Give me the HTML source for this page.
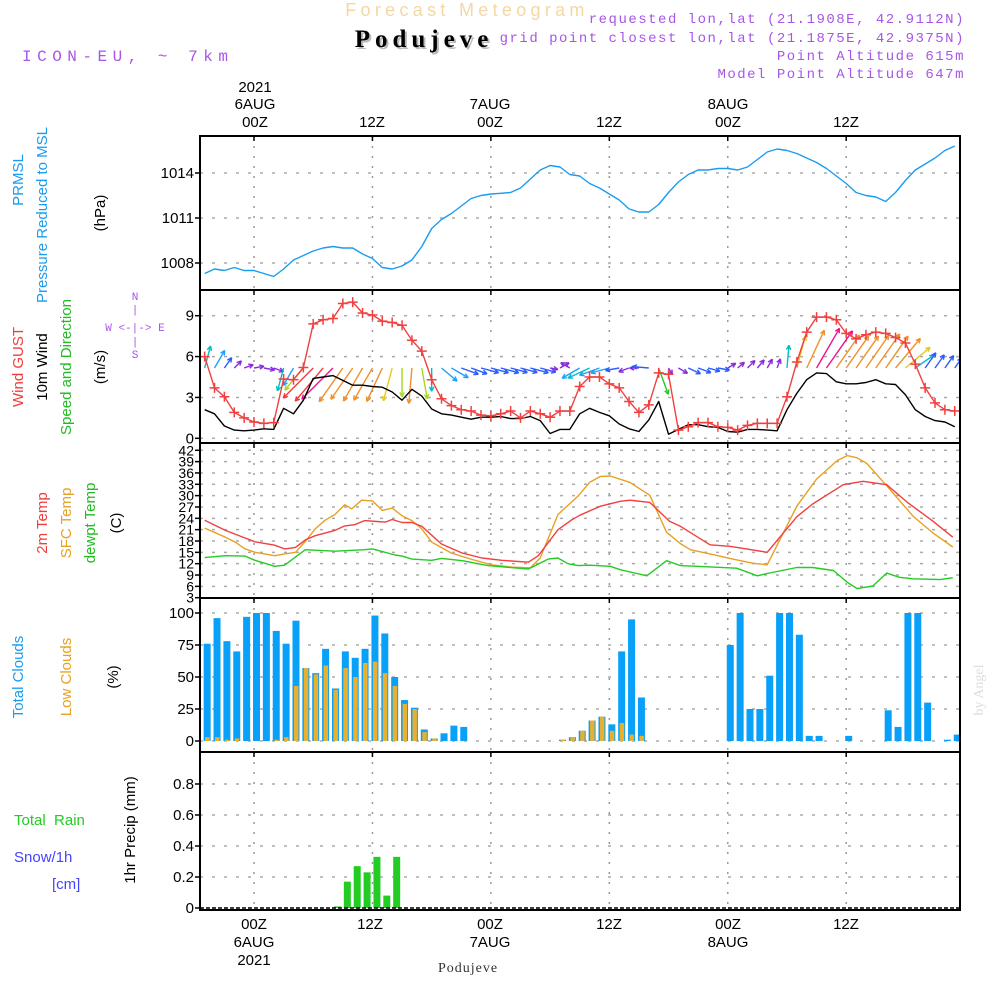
<!DOCTYPE html>
<html><head><meta charset="utf-8"><style>
html,body{margin:0;padding:0;background:#fff;}
svg{display:block;font-family:"Liberation Sans",sans-serif;}
</style></head><body>
<svg id="chart" width="1000" height="1000" viewBox="0 0 1000 1000" xmlns="http://www.w3.org/2000/svg">
<defs>
<clipPath id="clipP"><rect x="200" y="136" width="760" height="774"/></clipPath>
</defs>
<text x="467" y="16" text-anchor="middle" font-size="18" fill="#f3d8a4" letter-spacing="4.3">Forecast Meteogram</text>
<text x="426" y="49" text-anchor="middle" font-size="25" font-weight="bold" font-family="Liberation Serif,serif" fill="#bbb" letter-spacing="5">Podujeve</text>
<text x="424" y="47" text-anchor="middle" font-size="25" font-weight="bold" font-family="Liberation Serif,serif" fill="#000" letter-spacing="5">Podujeve</text>
<text x="22" y="61" font-size="16" fill="#a855e8" font-family="Liberation Mono,monospace" letter-spacing="5.5">ICON-EU, ~ 7km</text>
<g font-size="14" fill="#a855e8" text-anchor="end" font-family="Liberation Mono,monospace" letter-spacing="1.5">
<text x="965" y="23">requested lon,lat (21.1908E, 42.9112N)</text>
<text x="965" y="42">grid point closest lon,lat (21.1875E, 42.9375N)</text>
<text x="965" y="60">Point Altitude 615m</text>
<text x="965" y="78">Model Point Altitude 647m</text>
</g>
<g font-size="15" fill="#000" text-anchor="middle">
<text x="255" y="92">2021</text><text x="255" y="109">6AUG</text><text x="255" y="127">00Z</text>
<text x="372" y="127">12Z</text>
<text x="490" y="109">7AUG</text><text x="490" y="127">00Z</text>
<text x="609" y="127">12Z</text>
<text x="728" y="109">8AUG</text><text x="728" y="127">00Z</text>
<text x="846" y="127">12Z</text>
</g>
<g font-size="15" fill="#000" text-anchor="middle">
<text x="254" y="929">00Z</text><text x="254" y="947">6AUG</text><text x="254" y="965">2021</text>
<text x="370" y="929">12Z</text>
<text x="490" y="929">00Z</text><text x="490" y="947">7AUG</text>
<text x="609" y="929">12Z</text>
<text x="728" y="929">00Z</text><text x="728" y="947">8AUG</text>
<text x="846" y="929">12Z</text>
</g>
<text x="468" y="972" text-anchor="middle" font-size="14" font-family="Liberation Serif,serif" fill="#333" letter-spacing="1">Podujeve</text>
<text transform="translate(983,690) rotate(-90)" text-anchor="middle" font-size="14" font-family="Liberation Serif,serif" fill="#ddd">by Angel</text>

<g font-size="15" text-anchor="middle">
<text transform="translate(23,180) rotate(-90)" fill="#1a9cf0">PRMSL</text>
<text transform="translate(47,215) rotate(-90)" fill="#1a9cf0">Pressure Reduced to MSL</text>
<text transform="translate(105,213) rotate(-90)" fill="#000">(hPa)</text>
<text transform="translate(23,367) rotate(-90)" fill="#f03c3c">Wind GUST</text>
<text transform="translate(47,367) rotate(-90)" fill="#000">10m Wind</text>
<text transform="translate(71,367) rotate(-90)" fill="#22bb22">Speed and Direction</text>
<text transform="translate(105,367) rotate(-90)" fill="#000">(m/s)</text>
<text transform="translate(47,523) rotate(-90)" fill="#f03c3c">2m Temp</text>
<text transform="translate(71,523) rotate(-90)" fill="#e8a020">SFC Temp</text>
<text transform="translate(95,523) rotate(-90)" fill="#22bb22">dewpt Temp</text>
<text transform="translate(121,523) rotate(-90)" fill="#000">(C)</text>
<text transform="translate(23,677) rotate(-90)" fill="#1a9cf0">Total Clouds</text>
<text transform="translate(71,677) rotate(-90)" fill="#e8a020">Low Clouds</text>
<text transform="translate(118,677) rotate(-90)" fill="#000">(%)</text>
<text transform="translate(135,830) rotate(-90)" fill="#000">1hr Precip (mm)</text>
</g>
<text x="14" y="825" font-size="15" fill="#22cc22" xml:space="preserve">Total  Rain</text>
<text x="14" y="862" font-size="15" fill="#4444ff">Snow/1h</text>
<text x="52" y="889" font-size="15" fill="#4444ff">[cm]</text>
<g font-size="11" fill="#a855e8" font-family="Liberation Mono,monospace" text-anchor="middle">
<text x="135" y="300">N</text><text x="135" y="313">|</text>
<text x="135" y="331">W &lt;-|-&gt; E</text>
<text x="135" y="345">|</text><text x="135" y="358">S</text>
</g>
<g id="grid"></g>
<g id="marks" clip-path="url(#clipP)"></g>
<g id="frames"></g>
<g id="ticks" font-size="15" text-anchor="end"></g>
</svg>
<script>
// ---- data ----
const presHourStart = -5;
const pressure = [1007.3,1007.6,1007.5,1007.7,1007.5,1007.5,1007.3,1007.1,1007.6,1008.2,1008.5,1008.8,1009.0,1009.1,1009.0,1009.0,1008.6,1008.3,1007.7,1007.6,1007.8,1008.2,1009.1,1010.3,1010.9,1011.3,1011.8,1012.3,1012.5,1012.6,1012.65,1012.7,1013.0,1013.6,1014.2,1014.5,1014.4,1013.9,1013.8,1013.3,1013.0,1012.6,1012.2,1011.6,1011.4,1011.4,1011.9,1012.7,1013.4,1013.9,1014.2,1014.2,1014.3,1014.3,1014.2,1014.4,1014.9,1015.4,1015.6,1015.5,1015.3,1015.0,1014.7,1014.3,1013.8,1013.3,1012.7,1012.5,1012.4,1012.1,1012.7,1013.5,1014.2,1014.6,1015.0,1015.5,1015.8];
const pressureTicks = [1008,1011,1014];

const windHourStart = -5;
const gust = [6.0,3.7,3.05,1.9,1.5,1.2,1.1,1.15,4.35,4.3,5.2,8.4,8.7,8.8,9.9,10.0,9.2,9.05,8.6,8.5,8.3,7.2,6.4,4.3,2.9,2.4,2.1,2.0,1.7,1.65,1.8,2.0,1.5,2.0,1.8,1.55,2.0,2.0,3.8,4.5,4.5,4.0,3.7,2.7,1.9,2.45,4.8,4.7,0.6,0.85,1.15,1.15,0.85,0.8,0.6,0.95,1.1,1.1,1.1,3.05,5.6,7.8,8.9,8.9,8.7,7.7,7.3,7.6,7.8,7.7,7.4,7.0,5.45,3.7,2.6,2.1,2.0];
const windSpeed = [2.1,1.8,0.9,0.6,0.55,0.6,0.7,0.65,2.2,1.8,2.8,4.4,4.5,4.6,4.25,3.9,3.9,3.8,3.75,3.4,2.8,3.6,3.1,2.15,1.8,1.7,1.55,1.4,1.55,1.55,1.6,1.45,1.45,1.6,1.3,0.35,0.65,0.65,1.8,2.2,1.9,1.65,1.05,0.7,0.5,1.35,2.7,0.3,0.65,1.0,1.0,0.85,0.8,0.5,0.45,0.65,0.65,0.6,0.55,2.1,3.3,4.3,4.8,4.75,4.15,4.0,4.0,4.1,4.3,4.0,3.95,3.2,2.1,1.6,1.3,1.2,0.85];
const windToward = [15,30,35,45,70,80,100,110,195,210,220,225,220,225,215,215,210,210,205,195,180,185,170,180,130,120,110,110,105,105,105,105,105,105,105,100,60,300,240,245,250,255,260,250,270,275,160,150,120,115,110,105,100,60,50,45,40,30,20,5,15,25,30,35,35,35,35,35,35,35,40,50,55,35,35,35,35];
const windTicks = [0,3,6,9];

const t2mHours = [-5,-2.9,-0.9,0.1,2.1,3.1,4.2,5.2,6.2,8.2,9.2,10.2,11.2,13.3,14,15,16,17,19,21.1,23.1,25.1,27.8,28.8,30.8,32.2,33,35.1,37.1,38.1,40.1,42.1,43.2,46.2,48.2,49.9,52,55,56.6,59.7,61.7,64.1,66.2,68.8,70.8];
const t2m = [23.5,20.8,18.8,17.8,16.9,15.9,16.3,18.3,19.4,20.8,22,22.3,23.4,23.0,23.7,22.9,22.9,21.9,17.2,14.8,13.5,12.9,12.4,14.1,21,23.6,24.8,27.2,28.5,28.8,28.2,23.2,21.9,17.0,16.6,15.9,15.0,24.4,27.8,32.9,33.8,32.9,28.2,23.2,19];
const sfcHours = [-5,-2.9,-1.9,-0.9,0.1,2.1,3.1,4.2,5.2,6.2,7.2,8.2,9.2,9.9,10.9,12,13,14,15,16,17,18,20,22.1,24.1,26.1,28,29,30.8,32.8,34,35.1,36.1,38.1,40.1,41.8,43.2,44.2,46.5,48.5,50.6,52,55,57,59.1,60.1,61.1,62.1,64.1,66.2,66.8,68.8,70.8];
const sfcTemp = [21.4,19,17.7,15.9,15,14.1,14.6,15.0,17.9,21.2,23.5,25,27.6,26.5,28.8,28.6,26.1,26.7,24.7,23.4,21.2,17.7,14.8,13.1,11.7,11.1,10.9,13.5,25,29.8,33.5,35.1,35.2,33.5,30.1,20.3,17.3,15.7,14.4,13.2,12.1,11.7,27.2,34.4,39.3,40.6,40,38.5,32.6,26.3,24.5,20.1,16.4];
const dewHours = [-5,-2.9,-0.9,0.1,2.1,3.1,5.2,8.2,11.2,12,14.3,15,16,18,19,21.1,23.7,27.8,29.8,30.8,31.8,32.8,34,36.1,37.1,39.8,41.8,43.2,46.5,48.9,51,52,55,56.6,58.7,60.1,61.1,62.7,64.1,65.4,66.8,69.5,70.8];
const dewTemp = [13.6,14.1,14,12.9,11.3,11.6,15.7,15.3,15.7,15.9,14.3,14,13.2,12.9,13.4,12.8,11.5,10.6,13.2,13.5,12,11.5,11.6,11.3,10.4,8.8,12.8,11.5,11.1,10.8,8.8,9.4,11,11,10.2,7.1,5.4,6.1,9.5,8.4,8.0,7.8,8.3];
const tempTicks = [3,6,9,12,15,18,21,24,27,30,33,36,39,42];

const cloudHourStart = -6;
const totalClouds = [67,76,96,78,70,97,100,100,86,76, 94,57,53,72,41,70,65,72,98,84, 50,32,26,9,2,6,12,11, 0,0,0,0,0,0,0,0,0, 1,3,8,16,19,13,70,95,34, 0,0,0,0,0,0,0,0, 75,100,25,25,51,100,100,83,4,4, 0,0,4,0,0,0,24,11,100,100, 30,0,1,5];
const lowClouds = [3,3,3,1,2,0,0,0,1,3, 43,57,52,59,40,57,50,61,62,53, 43,29,25,7,2,0,0,0, 0,0,0,0,0,0,0,0,0, 1,3,8,16,19,8,14,5,4, 0,0,0,0,0,0,0,0, 0,0,0,0,0,0,0,0,0,0, 0,0,0,0,0,0,0,0,0,0, 0,0,0,0];
const cloudTicks = [0,25,50,75,100];

const rainHours = [8,9,10,11,12,13,14];
const rain = [0.01,0.17,0.27,0.23,0.33,0.08,0.33];
const rainTicks = [0,0.2,0.4,0.6,0.8];
const rainTickLabels = ["0","0.2","0.4","0.6","0.8"];

// ---- scales ----
const X0 = 200, X1 = 960;
const x = h => 254 + h * 9.87;
const yP = v => 263 - (v - 1008) * 15;
const yW = v => 438.3 - v * 13.62;
const yT = v => 597.7 - (v - 3) * 3.78;
const yC = v => 741 - v * 1.28;
const yR = v => 908 - v * 155;
const panels = [[136,290],[290,443],[443,598],[598,752],[752,910]];

const NS = "http://www.w3.org/2000/svg";
function el(tag, parent, attrs) {
  const e = document.createElementNS(NS, tag);
  for (const k in attrs) e.setAttribute(k, attrs[k]);
  parent.appendChild(e);
  return e;
}
const gGrid = document.getElementById('grid');
const gMarks = document.getElementById('marks');
const gFrames = document.getElementById('frames');
const gTicks = document.getElementById('ticks');

[0,12,24,36,48,60].forEach(h => {
  panels.forEach(p => {
    const ln = el('line', gGrid, {x1:x(h), x2:x(h), y1:p[0], y2:p[1], stroke:'#999', 'stroke-width':1.5, 'stroke-dasharray':'2,8'});
    
    
    const tk = el('line', gFrames, {x1:x(h), x2:x(h), y1:p[0], y2:p[0]+5, stroke:'#000', 'stroke-width':1.5});
    
    
  });
});

function hGrid(ticks, yf, labels, axisName) {
  ticks.forEach((t, i) => {
    const y = yf(t);
    const ln = el('line', gGrid, {x1:X0, x2:X1, y1:y, y2:y, stroke:'#aaa', 'stroke-width':1.5, 'stroke-dasharray':'3,9'});
    
    
    const tk = el('line', gFrames, {x1:X0-5, x2:X0, y1:y, y2:y, stroke:'#000', 'stroke-width':1.5});
    
    
    const tx = el('text', gTicks, {x:194, y:y+5});
    tx.textContent = labels ? labels[i] : String(t);
    
    
  });
}
hGrid(pressureTicks, yP, null, 'pressure-axis');
hGrid(windTicks, yW, null, 'wind-axis');
hGrid(cloudTicks, yC, null, 'cloud-axis');
hGrid(rainTicks, yR, rainTickLabels, 'precip-axis');
tempTicks.forEach(t => {
  const y = yT(t);
  const ln = el('line', gGrid, {x1:X0, x2:X1, y1:y, y2:y, stroke:'#aaa', 'stroke-width':1.5, 'stroke-dasharray':'3,9'});
  
  
  const tk = el('line', gFrames, {x1:X0-5, x2:X0, y1:y, y2:y, stroke:'#000', 'stroke-width':1.5});
  
  
  const tx = el('text', gTicks, {x:194, y:y+5, 'font-size':14});
  tx.textContent = String(t);
  
  
});

panels.forEach((p, i) => {
  const r = el('rect', gFrames, {x:X0, y:p[0], width:X1-X0, height:p[1]-p[0], fill:'none', stroke:'#000', 'stroke-width':2});
  
  
});

function poly(hours, vals, yf, color, name, w) {
  const pts = vals.map((v, i) => x(hours(i)).toFixed(1) + ',' + yf(v).toFixed(1)).join(' ');
  const pl = el('polyline', gMarks, {points:pts, fill:'none', stroke:color, 'stroke-width':w || 1.4, 'stroke-linejoin':'round'});
  
  
}

poly(i => presHourStart + i, pressure, yP, '#1a9cf0', 'pressure-line');

totalClouds.forEach((v, i) => {
  const h = cloudHourStart + i;
  if (v <= 0) return;
  const r = el('rect', gMarks, {x:x(h)-1, y:yC(v), width:7, height:741-yC(v), fill:'#08a0f8'});
  
  
});
lowClouds.forEach((v, i) => {
  const h = cloudHourStart + i;
  if (v <= 0) return;
  const r = el('rect', gMarks, {x:x(h)+0.5, y:yC(v), width:4.5, height:741-yC(v), fill:'#e8b030'});
  
  
});

rain.forEach((v, i) => {
  const h = rainHours[i];
  const r = el('rect', gMarks, {x:x(h)+1, y:yR(v), width:7, height:908-yR(v), fill:'#22cc22'});
  
  
});
const base = el('line', gMarks, {x1:X0, x2:X1, y1:908, y2:908, stroke:'#000', 'stroke-width':1.5, 'stroke-dasharray':'4,2'});



poly(i => sfcHours[i], sfcTemp, yT, '#e8a020', 'sfc-temp-line');
poly(i => t2mHours[i], t2m, yT, '#f04040', 't2m-line');
poly(i => dewHours[i], dewTemp, yT, '#22cc22', 'dewpoint-line');

function windColor(s) {
  if (s < 0.8) return '#8a2be2';
  if (s < 1.65) return '#2a5cff';
  if (s < 2.0) return '#1fa0ff';
  if (s < 2.3) return '#00c0c0';
  if (s < 2.75) return '#22cc22';
  if (s < 3.2) return '#a8d820';
  if (s < 3.5) return '#e8c820';
  if (s < 4.35) return '#f0902a';
  if (s < 4.55) return '#f03c3c';
  return '#ee1090';
}
windSpeed.forEach((s, i) => {
  const h = windHourStart + i;
  const a = windToward[i] * Math.PI / 180;
  const len = 5 + s * 8.5;
  const x0 = x(h), y0 = 368;
  const x1 = x0 + Math.sin(a) * len, y1 = y0 - Math.cos(a) * len;
  const c = windColor(s);
  const g = el('g', gMarks, {stroke:c, 'stroke-width':1.4, fill:'none'});
  
  
  el('line', g, {x1:x0, y1:y0, x2:x1, y2:y1});
  const back = Math.atan2(y0 - y1, x0 - x1);
  [0.45, -0.45].forEach(d => {
    el('line', g, {x1:x1, y1:y1, x2:x1 + Math.cos(back + d) * 5, y2:y1 + Math.sin(back + d) * 5});
  });
});
poly(i => windHourStart + i, windSpeed, yW, '#000', 'wind-speed-line');
poly(i => windHourStart + i, gust, yW, '#f04040', 'gust-line');
gust.forEach((v, i) => {
  const h = windHourStart + i, cx = x(h), cy = yW(v);
  const p = el('path', gMarks, {d:`M${cx-5},${cy}H${cx+5}M${cx},${cy-5}V${cy+5}`, stroke:'#f04040', 'stroke-width':1.5});
  
  
});
</script>
</body></html>
